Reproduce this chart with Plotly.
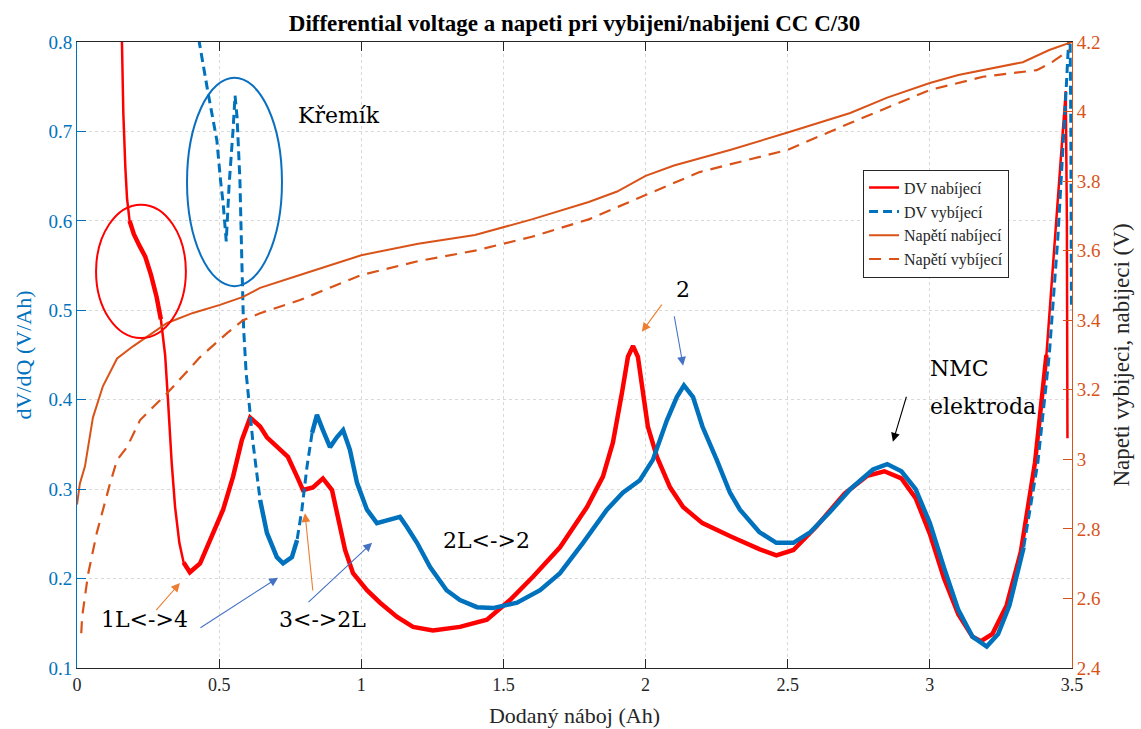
import numpy as np
import plotly.graph_objects as go

# ---- charge (nabijeni) differential voltage, dV/dQ [V/Ah] vs charge [Ah]
dv_chg_q = [0.155, 0.158, 0.163, 0.170, 0.176, 0.185, 0.200, 0.220, 0.240, 0.260,
            0.280, 0.295, 0.305, 0.310, 0.320, 0.333, 0.345, 0.360, 0.375, 0.397,
            0.433, 0.468, 0.514, 0.549, 0.580, 0.609, 0.644, 0.668, 0.703, 0.742,
            0.774, 0.795, 0.830, 0.865, 0.897, 0.918, 0.943, 0.971, 1.020, 1.066,
            1.126, 1.182, 1.252, 1.347, 1.442, 1.523, 1.604, 1.699, 1.794, 1.850,
            1.885, 1.917, 1.938, 1.956, 1.973, 1.991, 2.008, 2.040, 2.086, 2.132,
            2.200, 2.300, 2.400, 2.460, 2.520, 2.600, 2.700, 2.780, 2.840, 2.900,
            2.950, 3.000, 3.050, 3.100, 3.150, 3.180, 3.220, 3.270, 3.320, 3.370,
            3.410, 3.440, 3.465, 3.478, 3.482, 3.484]
dv_chg = [0.850, 0.800, 0.720, 0.660, 0.625, 0.600, 0.585, 0.572, 0.560, 0.540,
          0.515, 0.490, 0.465, 0.450, 0.400, 0.330, 0.280, 0.240, 0.218, 0.207,
          0.217, 0.243, 0.277, 0.314, 0.355, 0.380, 0.370, 0.358, 0.347, 0.336,
          0.314, 0.299, 0.302, 0.312, 0.299, 0.269, 0.232, 0.206, 0.187, 0.173,
          0.157, 0.146, 0.142, 0.146, 0.154, 0.176, 0.202, 0.235, 0.280, 0.314,
          0.352, 0.408, 0.448, 0.460, 0.448, 0.408, 0.370, 0.336, 0.302, 0.280,
          0.262, 0.247, 0.233, 0.226, 0.232, 0.258, 0.295, 0.315, 0.320, 0.312,
          0.290, 0.250, 0.200, 0.160, 0.135, 0.130, 0.138, 0.170, 0.230, 0.330,
          0.450, 0.580, 0.690, 0.745, 0.600, 0.357]

# ---- discharge (vybijeni) differential voltage
dv_dis_q = [0.420, 0.430, 0.460, 0.492, 0.505, 0.514, 0.525, 0.535, 0.549, 0.556,
            0.563, 0.573, 0.580, 0.586, 0.595, 0.609, 0.619, 0.644, 0.668, 0.703,
            0.725, 0.756, 0.774, 0.791, 0.809, 0.827, 0.844, 0.865, 0.890, 0.914,
            0.936, 0.960, 0.985, 1.020, 1.055, 1.100, 1.136, 1.160, 1.196, 1.242,
            1.300, 1.347, 1.407, 1.463, 1.548, 1.629, 1.699, 1.780, 1.864, 1.920,
            1.980, 2.026, 2.075, 2.110, 2.135, 2.167, 2.200, 2.250, 2.297, 2.332,
            2.400, 2.460, 2.520, 2.580, 2.650, 2.720, 2.800, 2.850, 2.900, 2.950,
            3.000, 3.050, 3.100, 3.150, 3.200, 3.240, 3.280, 3.330, 3.380, 3.420,
            3.450, 3.475, 3.488, 3.492, 3.496, 3.498]
dv_dis = [0.850, 0.800, 0.745, 0.690, 0.645, 0.620, 0.577, 0.640, 0.702, 0.740,
          0.716, 0.646, 0.553, 0.480, 0.430, 0.381, 0.352, 0.288, 0.251, 0.224,
          0.217, 0.224, 0.243, 0.277, 0.325, 0.363, 0.383, 0.366, 0.347, 0.358,
          0.366, 0.344, 0.307, 0.277, 0.262, 0.266, 0.269, 0.258, 0.240, 0.213,
          0.187, 0.176, 0.168, 0.167, 0.173, 0.187, 0.206, 0.240, 0.277, 0.296,
          0.310, 0.333, 0.377, 0.403, 0.416, 0.403, 0.370, 0.333, 0.296, 0.277,
          0.252, 0.240, 0.240, 0.252, 0.275, 0.300, 0.322, 0.328, 0.320, 0.300,
          0.262, 0.212, 0.165, 0.135, 0.124, 0.138, 0.170, 0.235, 0.330, 0.450,
          0.580, 0.720, 0.800, 0.860, 0.700, 0.500]

# ---- cell voltage during charge [V]
u_chg_q = [0.000, 0.010, 0.028, 0.056, 0.091, 0.141, 0.197, 0.267, 0.317, 0.408,
           0.503, 0.584, 0.644, 0.784, 1.000, 1.200, 1.400, 1.600, 1.800, 1.900,
           2.000, 2.100, 2.300, 2.500, 2.720, 2.850, 3.000, 3.100, 3.187, 3.327,
           3.420, 3.500]
u_chg = [2.870, 2.930, 2.980, 3.120, 3.210, 3.290, 3.325, 3.363, 3.392, 3.421,
         3.444, 3.467, 3.493, 3.530, 3.587, 3.620, 3.645, 3.690, 3.740, 3.770,
         3.815, 3.845, 3.890, 3.940, 3.996, 4.040, 4.082, 4.105, 4.119, 4.142,
         4.177, 4.200]

# ---- cell voltage during discharge [V]
u_dis_q = [0.015, 0.018, 0.039, 0.070, 0.116, 0.141, 0.176, 0.222, 0.292, 0.317,
           0.433, 0.528, 0.584, 0.644, 0.784, 1.000, 1.200, 1.400, 1.600, 1.800,
           2.000, 2.190, 2.500, 2.720, 3.000, 3.187, 3.376, 3.430, 3.490]
u_dis = [2.500, 2.547, 2.670, 2.790, 2.930, 2.998, 3.035, 3.113, 3.170, 3.190,
         3.294, 3.363, 3.400, 3.420, 3.458, 3.530, 3.570, 3.600, 3.640, 3.690,
         3.760, 3.826, 3.890, 3.967, 4.062, 4.100, 4.119, 4.142, 4.177]

x_ticks = [0, 0.5, 1, 1.5, 2, 2.5, 3, 3.5]
dv_ticks = [0.1, 0.2, 0.3, 0.4, 0.5, 0.6, 0.7, 0.8]
u_ticks = [2.4, 2.6, 2.8, 3.0, 3.2, 3.4, 3.6, 3.8, 4.0, 4.2]

RED = "#FF0000"
BLUE = "#0072BD"
ORANGE = "#D95319"
DARK = "#262626"
SERIF = "Liberation Serif"
NOTE_FONT = "DejaVu Serif"


def band(q, v, spans):
    """Keep only the points inside the given charge spans (others -> gap)."""
    q = np.asarray(q, dtype=float)
    v = np.asarray(v, dtype=float)
    keep = np.zeros(q.shape, dtype=bool)
    for lo, hi in spans:
        keep |= (q >= lo) & (q <= hi)
    return q, np.where(keep, v, np.nan)


fig = go.Figure()

fig.add_trace(go.Scatter(x=dv_chg_q, y=dv_chg, mode="lines", name="DV nabíjecí",
                         line=dict(color=RED, width=2.5), yaxis="y"))
# the noisy parts of the charge curve form a thicker band
bq, bv = band(dv_chg_q, dv_chg, [(0.18, 0.30), (0.37, 3.43)])
fig.add_trace(go.Scatter(x=bq, y=bv, mode="lines", showlegend=False, hoverinfo="skip",
                         connectgaps=False, line=dict(color=RED, width=4.5), yaxis="y"))

fig.add_trace(go.Scatter(x=dv_dis_q, y=dv_dis, mode="lines", name="DV vybíjecí",
                         line=dict(color=BLUE, width=3, dash="9px,5px"), yaxis="y"))
bq, bv = band(dv_dis_q, dv_dis, [(0.64, 0.78), (0.82, 3.33)])
fig.add_trace(go.Scatter(x=bq, y=bv, mode="lines", showlegend=False, hoverinfo="skip",
                         connectgaps=False, line=dict(color=BLUE, width=4.5), yaxis="y"))

fig.add_trace(go.Scatter(x=u_chg_q, y=u_chg, mode="lines", name="Napětí nabíjecí",
                         line=dict(color=ORANGE, width=2), yaxis="y2"))
fig.add_trace(go.Scatter(x=u_dis_q, y=u_dis, mode="lines", name="Napětí vybíjecí",
                         line=dict(color=ORANGE, width=2.2, dash="12px,8px"), yaxis="y2"))

# highlighted regions
shapes = [
    dict(type="circle", xref="x", yref="y", x0=0.067, x1=0.383, y0=0.469, y1=0.618,
         line=dict(color=RED, width=2)),
    dict(type="circle", xref="x", yref="y", x0=0.387, x1=0.721, y0=0.527, y1=0.760,
         line=dict(color="#0B6FC0", width=2)),
]

ARROW_OR = "#ED7D31"
ARROW_BL = "#4472C4"
arrows = [
    # (tip q, tip dv, tail q, tail dv, colour)
    (0.362, 0.195, 0.274, 0.163, ARROW_OR),
    (0.707, 0.201, 0.429, 0.144, ARROW_BL),
    (0.802, 0.273, 0.830, 0.185, ARROW_OR),
    (1.038, 0.240, 0.809, 0.172, ARROW_BL),
    (1.987, 0.476, 2.061, 0.508, ARROW_OR),
    (2.132, 0.438, 2.100, 0.495, ARROW_BL),
    (2.870, 0.353, 2.919, 0.405, "#000000"),
]
annotations = []
for tx, ty, sx, sy, col in arrows:
    annotations.append(dict(x=tx, y=ty, ax=sx, ay=sy, xref="x", yref="y",
                            axref="x", ayref="y", text="", showarrow=True,
                            arrowhead=2, arrowsize=1.6, arrowwidth=1.1,
                            arrowcolor=col))

labels = [
    ("Křemík", 0.922, 0.718, "center"),
    ("1L<->4", 0.236, 0.154, "center"),
    ("3<->2L", 0.862, 0.154, "center"),
    ("2L<->2", 1.439, 0.243, "center"),
    ("2", 2.132, 0.523, "center"),
    ("NMC", 2.993, 0.435, "left"),
    ("elektroda", 2.993, 0.392, "left"),
]
for txt, lx, ly, anchor in labels:
    annotations.append(dict(x=lx, y=ly, xref="x", yref="y", text=txt,
                            showarrow=False, xanchor=anchor, yanchor="middle",
                            font=dict(family=NOTE_FONT, size=22, color="#000000")))

fig.update_layout(
    width=1141, height=729,
    margin=dict(l=77, r=69, t=42, b=61, autoexpand=False),
    paper_bgcolor="white", plot_bgcolor="white",
    title=dict(text="<b>Differential voltage a napeti pri vybijeni/nabijeni CC C/30</b>",
               x=0.5035, xanchor="center", y=0.968, yref="container", yanchor="middle",
               font=dict(family=SERIF, size=23, color="#000000")),
    xaxis=dict(range=[0, 3.5], tickvals=x_ticks, ticks="inside", ticklen=9,
               tickcolor=DARK, showline=True, linecolor=DARK, linewidth=1,
               mirror="ticks", showgrid=True, gridcolor="#d9d9d9", griddash="dot",
               zeroline=False, automargin=False,
               tickfont=dict(family=SERIF, size=18, color=DARK),
               title=dict(text="Dodaný náboj (Ah)", standoff=14,
                          font=dict(family=SERIF, size=22, color=DARK))),
    yaxis=dict(range=[0.1, 0.8], tickvals=dv_ticks, ticks="inside", ticklen=9,
               tickcolor=BLUE, showline=True, linecolor=BLUE, linewidth=1,
               showgrid=True, gridcolor="#d9d9d9", griddash="dot", zeroline=False,
               automargin=False,
               tickfont=dict(family=SERIF, size=19, color=BLUE),
               title=dict(text="dV/dQ (V/Ah)", standoff=10,
                          font=dict(family=SERIF, size=22, color=BLUE))),
    yaxis2=dict(range=[2.4, 4.2], tickvals=u_ticks, overlaying="y", side="right",
                ticks="inside", ticklen=9, tickcolor=ORANGE, showline=True,
                linecolor=ORANGE, linewidth=1, showgrid=False, zeroline=False,
                automargin=False,
                tickfont=dict(family=SERIF, size=19, color=ORANGE),
                title=dict(text="Napeti vybijeci, nabijeci (V)", standoff=12,
                           font=dict(family=SERIF, size=23, color=DARK))),
    legend=dict(x=0.79, y=0.796, xanchor="left", yanchor="top",
                bgcolor="white", bordercolor=DARK, borderwidth=1,
                font=dict(family=SERIF, size=16, color=DARK), tracegroupgap=0),
    shapes=shapes,
    annotations=annotations,
    showlegend=True,
)

fig.write_html("out.html")
